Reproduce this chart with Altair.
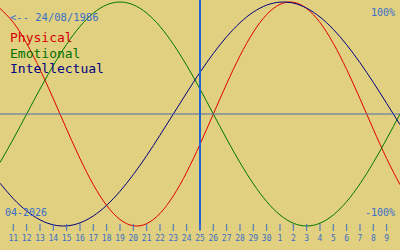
import altair as alt
import pandas as pd

# ---- data ----
series_names = ["Physical", "Emotional", "Intellectual"]
series_colors = ["#e00000", "#007800", "#000080"]
day_offsets = list(range(-15, 16))  # day offset from the marked day (25)
physical = [94.2, 81.7, 63.1, 39.8, 13.6, -13.6, -39.8, -63.1, -81.7, -94.2, -99.8,
            -97.9, -88.8, -73.1, -52.0, -27.0, 0.0, 27.0, 52.0, 73.1, 88.8, 97.9,
            99.8, 94.2, 81.7, 63.1, 39.8, 13.6, -13.6, -39.8, -63.1]
emotional = [-43.4, -22.3, 0.0, 22.3, 43.4, 62.3, 78.2, 90.1, 97.5, 100.0, 97.5,
             90.1, 78.2, 62.3, 43.4, 22.3, 0.0, -22.3, -43.4, -62.3, -78.2, -90.1,
             -97.5, -100.0, -97.5, -90.1, -78.2, -62.3, -43.4, -22.3, 0.0]
intellectual = [-61.8, -75.6, -86.6, -94.5, -99.0, -99.9, -97.2, -91.0, -81.5, -69.0,
                -54.1, -37.2, -18.9, 0.0, 18.9, 37.2, 54.1, 69.0, 81.5, 91.0, 97.2,
                99.9, 99.0, 94.5, 86.6, 75.6, 61.8, 45.8, 28.2, 9.5, -9.5]
tick_offsets = list(range(-14, 15))
tick_labels = ["11", "12", "13", "14", "15", "16", "17", "18", "19", "20", "21", "22",
               "23", "24", "25", "26", "27", "28", "29", "30", "1", "2", "3", "4",
               "5", "6", "7", "8", "9"]
birth_text = "<-- 24/08/1986"
month_text = "04-2026"
top_text = "100%"
bottom_text = "-100%"

BG = "#e0d080"
BLUE = "#3a6ec8"
MONO = "DejaVu Sans Mono"

rows = []
for name, vals in zip(series_names, [physical, emotional, intellectual]):
    for t, v in zip(day_offsets, vals):
        rows.append({"t": t, "v": v, "series": name})
curves = pd.DataFrame(rows)
ticks = pd.DataFrame({"t": tick_offsets, "label": tick_labels})

xs = alt.Scale(domain=[-15, 15], range=[0, 400], nice=False, zero=False)
ys = alt.Scale(domain=[-121.43, 101.79], range=[250, 0], nice=False, zero=False)

lines = alt.Chart(curves).mark_line(strokeWidth=1, interpolate="natural").encode(
    x=alt.X("t:Q", scale=xs, axis=None),
    y=alt.Y("v:Q", scale=ys, axis=None),
    color=alt.Color("series:N", scale=alt.Scale(domain=series_names, range=series_colors), legend=None),
    detail="series:N",
)

zero_line = alt.Chart(pd.DataFrame({"v": [0]})).mark_rule(color="#4a6aa8", strokeWidth=1).encode(
    y=alt.Y("v:Q", scale=ys, axis=None), x=alt.value(0), x2=alt.value(400)
)
today_line = alt.Chart(pd.DataFrame({"t": [0]})).mark_rule(color="#2464d0", strokeWidth=2).encode(
    x=alt.X("t:Q", scale=xs, axis=None), y=alt.value(0), y2=alt.value(230)
)

tick_marks = alt.Chart(ticks).mark_rule(color=BLUE, strokeWidth=1).encode(
    x=alt.X("t:Q", scale=xs, axis=None), y=alt.value(224), y2=alt.value(231)
)
tick_text = alt.Chart(ticks).mark_text(font=MONO, fontSize=8, color=BLUE, align="center",
                                       baseline="alphabetic").encode(
    x=alt.X("t:Q", scale=xs, axis=None), y=alt.value(241), text="label:N"
)


def label(txt, x, y, size, color, align="left"):
    return alt.Chart(alt.Data(values=[{}])).mark_text(
        font=MONO, fontSize=size, color=color, align=align, baseline="alphabetic"
    ).encode(x=alt.value(x), y=alt.value(y), text=alt.value(txt))


annots = [
    label(birth_text, 10, 21, 10.5, BLUE),
    label(series_names[0], 10, 42, 13, "#d80000"),
    label(series_names[1], 10, 57.5, 13, "#007000"),
    label(series_names[2], 10, 73, 13, "#000080"),
    label(month_text, 5, 216, 10, BLUE),
    label(top_text, 395, 16, 10, BLUE, "right"),
    label(bottom_text, 395, 216, 10, BLUE, "right"),
]

chart = alt.layer(lines, zero_line, today_line, tick_marks, tick_text, *annots).properties(
    width=400, height=250, background=BG, padding=0,
    autosize=alt.AutoSizeParams(type="none"),
).configure_view(stroke=None)

chart.save("out.html", embed_options={"renderer": "svg", "actions": False})
